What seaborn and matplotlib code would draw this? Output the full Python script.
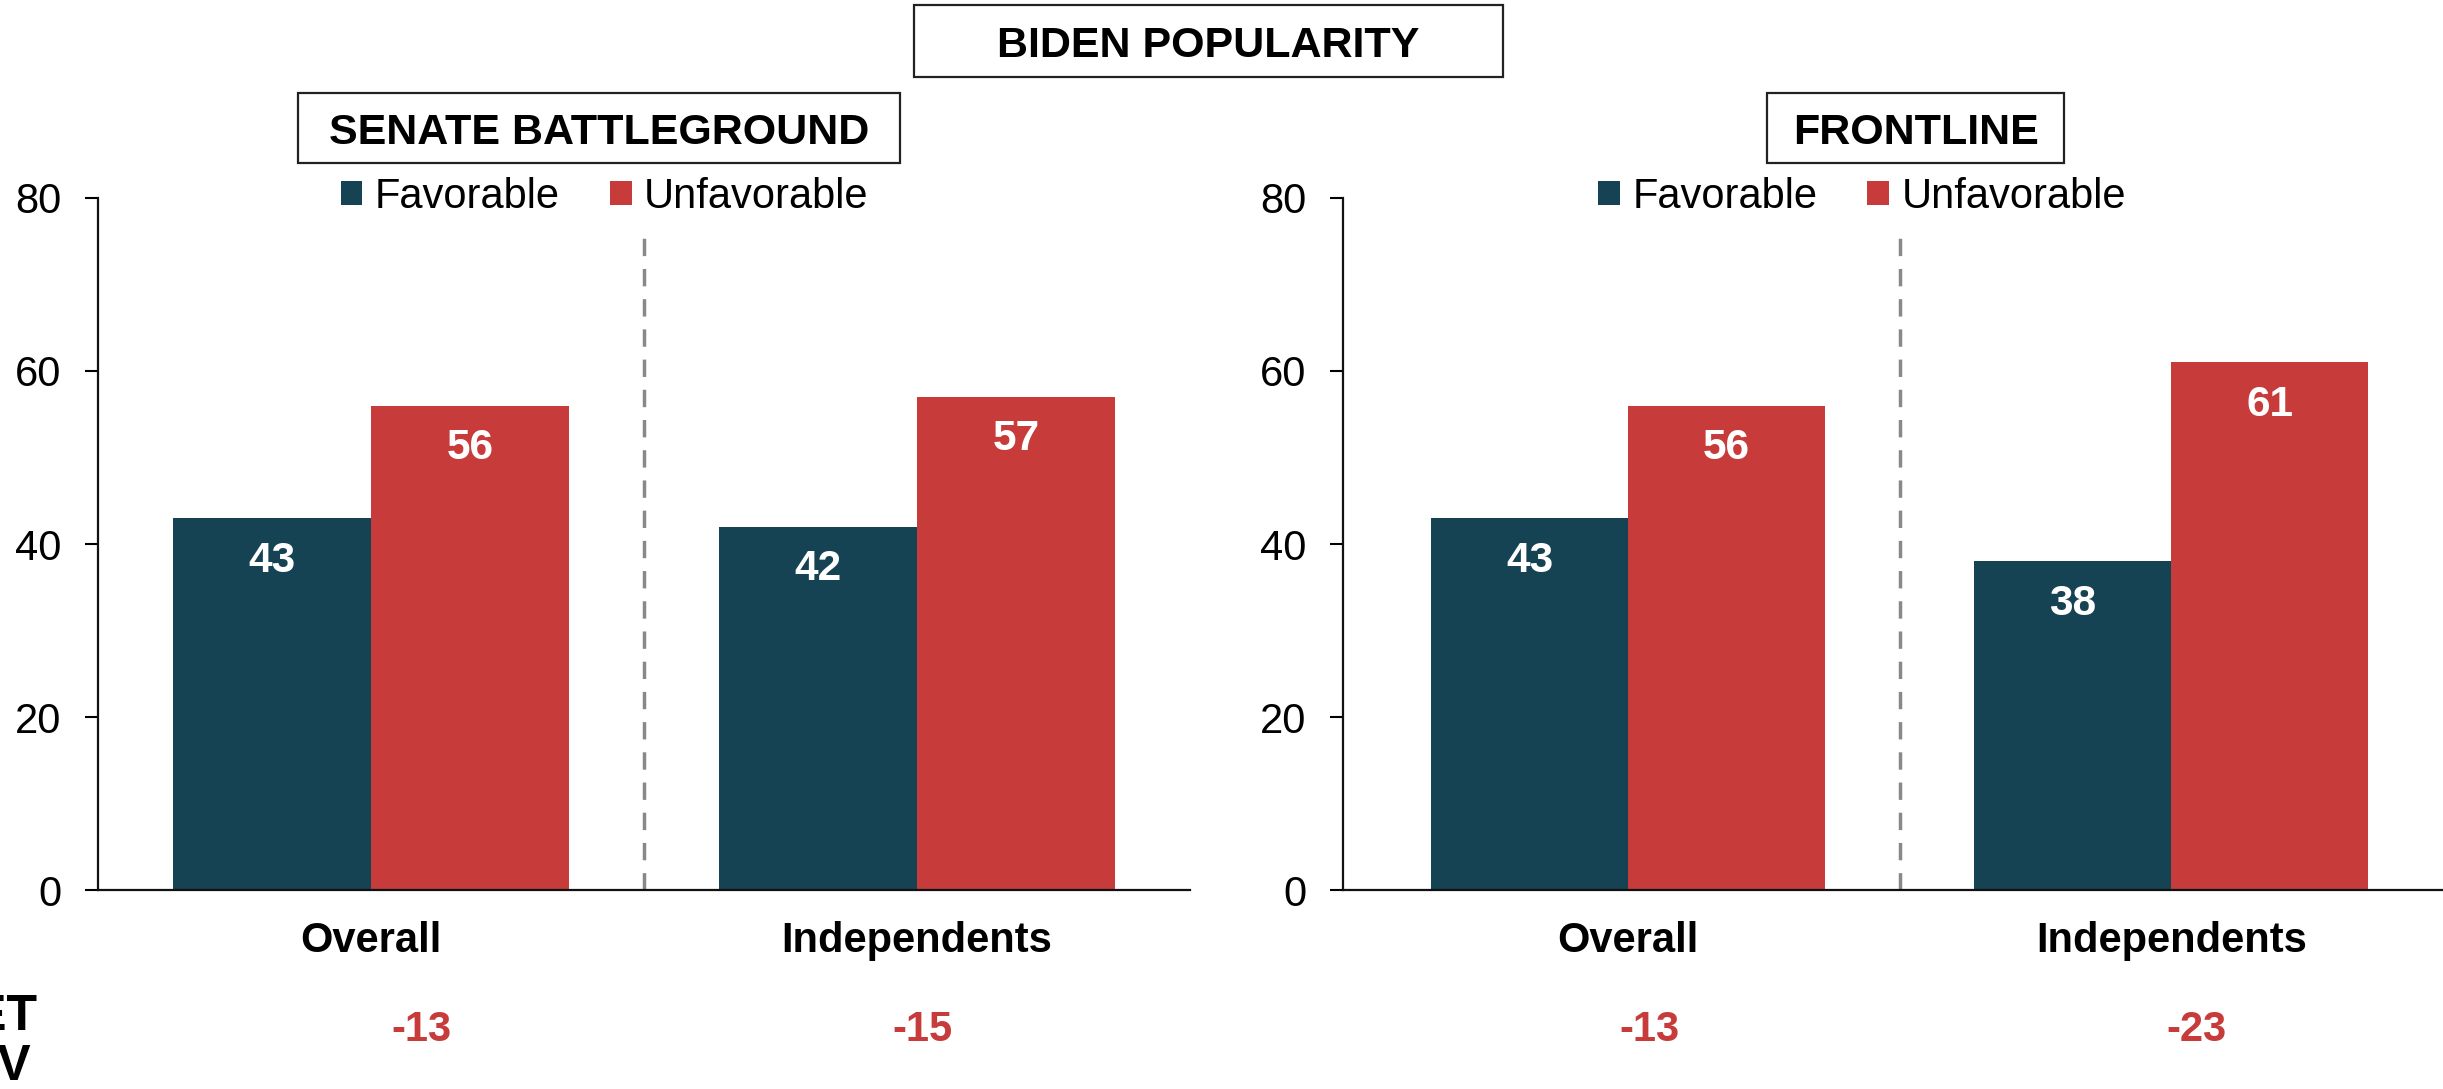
import pandas as pd
import seaborn as sns
import matplotlib.pyplot as plt
from matplotlib.patches import Rectangle
from matplotlib.transforms import blended_transform_factory

# values
groups = ['Overall', 'Independents']
ratings = ['Favorable', 'Unfavorable']
senate_fav = [43, 42]
senate_unfav = [56, 57]
senate_net = [-13, -15]
front_fav = [43, 38]
front_unfav = [56, 61]
front_net = [-13, -23]
yticks = [0, 20, 40, 60, 80]

fav_color = '#154353'
unfav_color = '#C83B3B'

sns.set_style('ticks')
plt.rcParams['font.family'] = ['Liberation Sans', 'DejaVu Sans']
plt.rcParams.update({'text.color': 'black', 'xtick.color': 'black',
                     'ytick.color': 'black', 'axes.labelcolor': 'black'})

fig = plt.figure(figsize=(24.43, 10.89), dpi=100)
ax_l = fig.add_axes([0.0401, 0.1827, 0.447, 0.6355])
ax_r = fig.add_axes([0.5497, 0.1827, 0.4503, 0.6355])


def make_df(fav, unfav):
    return pd.DataFrame({
        'group': groups * 2,
        'rating': [ratings[0]] * len(groups) + [ratings[1]] * len(groups),
        'value': fav + unfav,
    })


# axes, data, net values, xlim, legend x, horizontal nudge of net labels (pt)
panels = [
    (ax_l, make_df(senate_fav, senate_unfav), senate_net, (-0.5, 1.5), 0.464, [36, 4]),
    (ax_r, make_df(front_fav, front_unfav), front_net, (-0.525, 1.5), 0.472, [15, 18]),
]

for ax, df, net, xlim, leg_x, nudge in panels:
    sns.barplot(data=df, x='group', y='value', hue='rating', order=groups,
                hue_order=ratings, palette=[fav_color, unfav_color],
                saturation=1, width=0.725, linewidth=0, ax=ax)
    for cont in ax.containers:
        ax.bar_label(cont, padding=-45, color='white', fontsize=30.5,
                     fontweight='bold')
    ax.set_ylim(0, 80)
    ax.set_xlim(*xlim)
    ax.set_yticks(yticks)
    ax.set_xlabel('')
    ax.set_ylabel('')
    sns.despine(ax=ax)
    for s in ['left', 'bottom']:
        ax.spines[s].set_linewidth(1.6)
        ax.spines[s].set_color('#111111')
    ax.tick_params(axis='y', length=9.5, width=1.5, labelsize=30, pad=17)
    ax.tick_params(axis='x', length=0, labelsize=30, pad=22)
    for lab in ax.get_xticklabels():
        lab.set_fontweight('bold')

    # dashed separator between the two groups
    ax.vlines(0.5, 0, 76, colors='#888888', linestyles=(0, (5, 3.7)),
              linewidth=2.5)

    handles, labels = ax.get_legend_handles_labels()
    ax.legend(handles, labels, loc='center', bbox_to_anchor=(leg_x, 1.002),
              ncol=2, frameon=False, fontsize=30, handlelength=0.52,
              handleheight=0.52, handletextpad=0.3, columnspacing=1.2,
              borderpad=0)

    trans = blended_transform_factory(ax.transData, fig.transFigure)
    for i, v in enumerate(net):
        ax.annotate(str(v), (i, 0.054), xycoords=trans,
                    xytext=(nudge[i], 0), textcoords='offset points',
                    ha='center', va='center', color=unfav_color,
                    fontsize=30, fontweight='bold')

fig.text(0.0155, 0.043, 'NET\nFAV', ha='right', va='center',
         multialignment='left', fontsize=36, fontweight='bold',
         linespacing=1.12)

# boxed titles
boxes = [
    ('BIDEN POPULARITY', 0.3741, 0.6152, 0.9293, 0.9954),
    ('SENATE BATTLEGROUND', 0.1220, 0.3684, 0.8503, 0.9146),
    ('FRONTLINE', 0.7233, 0.8449, 0.8503, 0.9146),
]
for txt, x0, x1, y0, y1 in boxes:
    fig.patches.append(Rectangle((x0, y0), x1 - x0, y1 - y0,
                                 transform=fig.transFigure, fill=False,
                                 edgecolor='#222222', linewidth=1.6))
    fig.text((x0 + x1) / 2, (y0 + y1) / 2, txt, ha='center',
             va='center_baseline', fontsize=31, fontweight='bold')

fig.savefig('out.png', dpi=100)
